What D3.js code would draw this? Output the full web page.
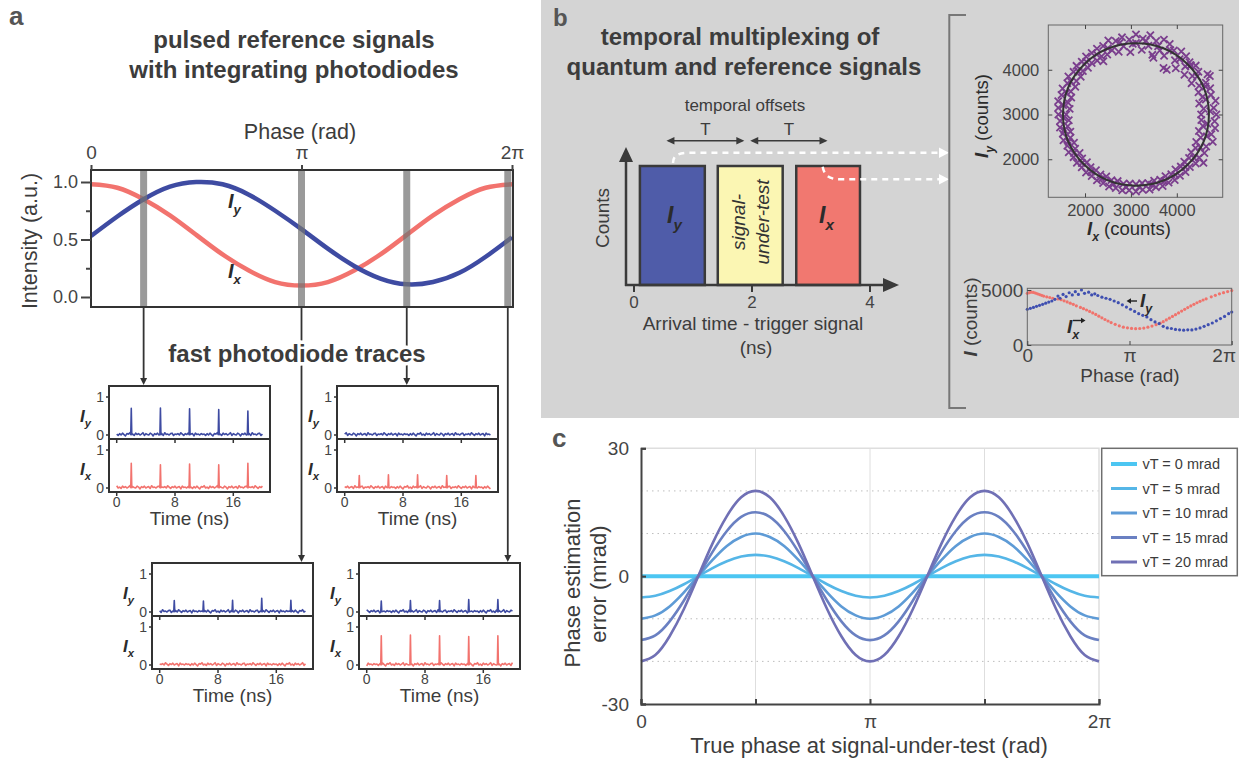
<!DOCTYPE html>
<html>
<head>
<meta charset="utf-8">
<script src="https://cdn.jsdelivr.net/npm/d3@7/dist/d3.min.js"></script>
<style>
  body { margin: 0; background: #fff; }
  svg { display: block; }
</style>
</head>
<body>
<script>
// ---------- panel a : integrating photodiodes (phase in units of pi) ----------
var phaseA = [0, 0.125, 0.25, 0.375, 0.5, 0.625, 0.75, 0.875, 1, 1.125, 1.25, 1.375, 1.5, 1.625, 1.75, 1.875, 2];
var intensityX = [0.98, 0.95, 0.85, 0.71, 0.54, 0.37, 0.23, 0.13, 0.10, 0.13, 0.23, 0.37, 0.54, 0.71, 0.85, 0.95, 0.98];
var intensityY = [0.53, 0.70, 0.85, 0.96, 1.00, 0.98, 0.89, 0.75, 0.59, 0.42, 0.27, 0.16, 0.11, 0.13, 0.21, 0.35, 0.52];
var gatePhases = [0.25, 1, 1.5, 1.98];
var phaseTicks = [0, 1, 2];
var intensityTicks = [0, 0.5, 1];
var intensityMinor = [0.25, 0.75];

// fast photodiode traces
var pulseTimes = [2, 6, 10, 14, 18];
var timeTicks = [0, 8, 16];
var traceNoise = [0.02, -0.01, 0.03, 0.00, 0.04, 0.01, -0.02, 0.03, 0.02, 0.05, 0.00, 0.02, -0.01, 0.04, 0.01,
  0.03, 0.00, 0.02, 0.05, -0.01, 0.03, 0.01, 0.00, 0.04, 0.02, -0.02, 0.03, 0.01, 0.04, 0.00,
  0.02, 0.03, -0.01, 0.05, 0.01, 0.02, 0.00, 0.03, 0.04, -0.01, 0.02, 0.01, 0.03, 0.00, 0.05,
  0.02, -0.01, 0.03, 0.01, 0.04, 0.00, 0.02, 0.03, -0.02, 0.04, 0.01, 0.02, 0.00, 0.03, 0.01];
var peaksY1 = [0.70, 0.71, 0.69, 0.67, 0.63];
var peaksX1 = [0.65, 0.61, 0.63, 0.61, 0.65];
var peaksY2 = [0, 0, 0, 0, 0];
var peaksX2 = [0.33, 0.35, 0.35, 0.33, 0.33];
var peaksY3 = [0.30, 0.29, 0.31, 0.36, 0.31];
var peaksX3 = [0, 0, 0, 0, 0];
var peaksY4 = [0.29, 0.30, 0.30, 0.33, 0.33];
var peaksX4 = [0.77, 0.79, 0.77, 0.75, 0.77];

// ---------- panel b ----------
var arrivalTicks = [0, 2, 4];
var binStart = [0.1, 1.42, 2.75];
var binEnd = [1.2, 2.52, 3.83];
var countTicks = [2000, 3000, 4000];
var fitCenter = [3110, 3000];
var fitRadius = 1590;
var scatterPoints = [
  [4530,3000],[4860,3000],[4584,3129],[4803,3148],[4489,3244],[4844,3306],[4559,3389],[4743,3438],
  [4473,3496],[4727,3588],[4487,3643],[4632,3711],[4322,3700],[4669,3900],[4339,3861],[4470,3953],
  [4167,3887],[4412,4093],[4185,4075],[4277,4167],[3978,4034],[4203,4302],[3960,4212],[4097,4409],
  [3710,4039],[3935,4429],[3723,4314],[3846,4576],[3630,4429],[3719,4673],[3467,4333],[3550,4642],
  [3381,4537],[3423,4773],[3236,4444],[3258,4693],[3110,4600],[3110,4790],[2988,4394],[2964,4673],
  [2840,4527],[2806,4724],[2734,4401],[2670,4642],[2587,4438],[2508,4654],[2484,4341],[2395,4531],
  [2360,4299],[2260,4472],[2266,4204],[2146,4376],[2146,4149],[2023,4295],[2064,4046],[1929,4181],
  [1953,3971],[1815,4087],[1906,3844],[1750,3953],[1811,3750],[1638,3850],[1787,3618],[1615,3698],
  [1691,3516],[1512,3581],[1700,3378],[1487,3435],[1633,3261],[1416,3299],[1666,3126],[1417,3148],
  [1590,3000],[1420,3000],[1646,2872],[1457,2856],[1623,2737],[1455,2708],[1680,2617],[1516,2573],
  [1681,2480],[1531,2425],[1760,2370],[1615,2302],[1785,2235],[1646,2155],[1882,2139],[1750,2047],
  [1938,2016],[1823,1920],[2042,1932],[1929,1819],[2120,1820],[2023,1705],[2238,1755],[2146,1624],
  [2335,1658],[2260,1528],[2463,1614],[2395,1469],[2576,1534],[2525,1393],[2711,1512],[2670,1358],
  [2837,1454],[2811,1306],[2975,1456],[2962,1307],[3110,1440],[3110,1280],[3244,1466],[3257,1317],
  [3381,1463],[3406,1326],[3506,1522],[3545,1377],[3640,1543],[3691,1402],[3753,1623],[3821,1478],
  [3880,1666],[3955,1536],[3971,1772],[4069,1632],[4087,1836],[4190,1713],[4163,1947],[4284,1826],
  [4267,2029],[4412,1907],[4314,2156],[4486,2036],[4409,2250],[4600,2140],[4424,2387],[4641,2285],
  [4520,2487],[4783,2391],[4482,2632],[4752,2560],[4568,2742],[4834,2696],[4534,2876],[4823,2850],
  [4728,3071],[4633,3337],[4625,3628],[4442,3848],[4304,4095],[4060,4237],[3858,4437],[3592,4526],
  [3327,4645],[3040,4578],[2756,4601],[2497,4478],[2256,4340],[2028,4179],[1857,3962],[1691,3739],
  [1593,3479],[1524,3210],[1532,2930],[1548,2654],[1641,2391],[1761,2141],[1931,1918],[2130,1723],
  [2362,1563],[2619,1445],[2895,1375],[3181,1382],[3458,1429],[3727,1512],[3969,1651],[4185,1828],
  [4379,2026],[4511,2270],[4655,2512],[4666,2794],
  [3780,4000],[2400,4190],[3490,4270],[4580,1920],[4720,3860],[4300,4100]
];
var sweepTicks = [0, 5000];
var redDots = [
  [0.00,4700],[0.02,4760],[0.04,4800],[0.06,4780],[0.08,4720],[0.10,4650],[0.12,4580],[0.14,4520],
  [0.16,4450],[0.19,4380],[0.22,4320],[0.25,4250],[0.30,4180],[0.33,4120],[0.36,4020],[0.39,3920],
  [0.42,3800],[0.45,3700],[0.48,3560],[0.52,3420],[0.55,3300],[0.58,3180],[0.61,3050],[0.64,2920],
  [0.67,2780],[0.70,2620],[0.73,2470],[0.76,2320],[0.79,2180],[0.82,2040],[0.86,1880],[0.90,1740],
  [0.94,1620],[0.98,1560],[1.02,1510],[1.06,1480],[1.10,1500],[1.14,1540],[1.18,1620],[1.22,1720],
  [1.26,1850],[1.30,1980],[1.33,2120],[1.36,2280],[1.39,2440],[1.42,2600],[1.45,2760],[1.48,2920],
  [1.51,3080],[1.54,3240],[1.57,3400],[1.60,3550],[1.63,3700],[1.66,3840],[1.69,3970],[1.72,4090],
  [1.75,4200],[1.80,4380],[1.84,4520],[1.88,4650],[1.92,4760],[1.96,4860],[2.00,4950]
];
var blueDots = [
  [0.00,3250],[0.03,3330],[0.06,3420],[0.09,3520],[0.12,3610],[0.15,3700],[0.18,3800],[0.21,3900],
  [0.24,4000],[0.27,4150],[0.30,4450],[0.32,4250],[0.35,4600],[0.38,4400],[0.41,4750],[0.44,4550],
  [0.47,4850],[0.50,4600],[0.53,5000],[0.56,4700],[0.60,4800],[0.63,4550],[0.66,4650],[0.69,4500],
  [0.73,4350],[0.77,4250],[0.81,4150],[0.85,4000],[0.89,3850],[0.93,3650],[0.97,3450],[1.01,3250],
  [1.05,3050],[1.09,2850],[1.13,2700],[1.17,2550],[1.21,2300],[1.25,2100],[1.29,1950],[1.33,1700],
  [1.37,1550],[1.41,1500],[1.45,1420],[1.49,1380],[1.53,1350],[1.57,1380],[1.61,1370],[1.65,1450],
  [1.69,1550],[1.73,1700],[1.77,1850],[1.81,2000],[1.85,2200],[1.89,2400],[1.93,2600],[1.97,2850],
  [2.00,3000]
];

// ---------- panel c ----------
var phaseC = [0, 0.0625, 0.125, 0.1875, 0.25, 0.3125, 0.375, 0.4375, 0.5, 0.5625, 0.625, 0.6875, 0.75,
  0.8125, 0.875, 0.9375, 1, 1.0625, 1.125, 1.1875, 1.25, 1.3125, 1.375, 1.4375, 1.5, 1.5625, 1.625,
  1.6875, 1.75, 1.8125, 1.875, 1.9375, 2];
var err0 = [0,0,0,0,0,0,0,0,0,0,0,0,0,0,0,0,0,0,0,0,0,0,0,0,0,0,0,0,0,0,0,0,0];
var err5 = [-5,-4.6,-3.5,-1.9,0,1.9,3.5,4.6,5,4.6,3.5,1.9,0,-1.9,-3.5,-4.6,-5,-4.6,-3.5,-1.9,0,1.9,3.5,4.6,5,4.6,3.5,1.9,0,-1.9,-3.5,-4.6,-5];
var err10 = [-10,-9.2,-7.1,-3.8,0,3.8,7.1,9.2,10,9.2,7.1,3.8,0,-3.8,-7.1,-9.2,-10,-9.2,-7.1,-3.8,0,3.8,7.1,9.2,10,9.2,7.1,3.8,0,-3.8,-7.1,-9.2,-10];
var err15 = [-15,-13.9,-10.6,-5.7,0,5.7,10.6,13.9,15,13.9,10.6,5.7,0,-5.7,-10.6,-13.9,-15,-13.9,-10.6,-5.7,0,5.7,10.6,13.9,15,13.9,10.6,5.7,0,-5.7,-10.6,-13.9,-15];
var err20 = [-20,-18.5,-14.1,-7.7,0,7.7,14.1,18.5,20,18.5,14.1,7.7,0,-7.7,-14.1,-18.5,-20,-18.5,-14.1,-7.7,0,7.7,14.1,18.5,20,18.5,14.1,7.7,0,-7.7,-14.1,-18.5,-20];
var vtLabels = ["vT = 0 mrad", "vT = 5 mrad", "vT = 10 mrad", "vT = 15 mrad", "vT = 20 mrad"];
var errTicks = [-30, 0, 30];
var errGrid = [-20, -10, 10, 20];
var phaseTicksC = [0, 0.5, 1, 1.5, 2];

// ---------- styling ----------
var FONT = '"Liberation Sans", Arial, Helvetica, sans-serif';
var INK = "#3c3c3c";
var TICK = "#444";
var RED = "#f2736e";
var BLUE = "#3e4ba2";
var vtColors = ["#4cc6f2", "#55b6e7", "#5e9bd6", "#6a80c2", "#7070b5"];

var svg = d3.select("body").append("svg")
    .attr("width", 1239)
    .attr("height", 762)
    .attr("font-family", FONT);

function piLabel(d) {
    if (d === 0) return "0";
    if (d === 1) return "π";
    if (d === 2) return "2π";
    return "";
}
var plainNum = (d) => (d < 0 ? "-" + Math.abs(d) : String(d));

function styleAxis(sel, size, sw) {
    sel.attr("font-family", FONT).attr("font-size", size).style("color", TICK);
    sel.selectAll("line").attr("stroke-width", sw || 1);
    return sel;
}

// bold italic I with a subscript
function subLabel(g, x, y, sub, size, rest) {
    var t = g.append("text").attr("x", x).attr("y", y).attr("fill", "#2b2b2b");
    t.append("tspan").attr("font-weight", "bold").attr("font-style", "italic")
        .attr("font-size", size).text("I");
    t.append("tspan").attr("font-weight", "bold").attr("font-style", "italic")
        .attr("font-size", size * 0.66).attr("dy", size * 0.3).text(sub);
    if (rest) {
        t.append("tspan").attr("font-size", size).attr("dy", -size * 0.3).text(rest);
    }
    return t;
}

function arrowDown(g, x, y) {
    g.append("path").attr("d", `M${x - 3.5},${y - 7}L${x + 3.5},${y - 7}L${x},${y}Z`).attr("fill", "#333");
}

// ================= PANEL A =================
var a = svg.append("g");
a.append("text").attr("x", 9).attr("y", 25).attr("font-size", 26).attr("font-weight", "bold")
    .attr("fill", "#555").text("a");
a.append("text").attr("x", 294).attr("y", 48).attr("text-anchor", "middle").attr("font-size", 24)
    .attr("font-weight", "bold").attr("fill", INK).text("pulsed reference signals");
a.append("text").attr("x", 294).attr("y", 78).attr("text-anchor", "middle").attr("font-size", 24)
    .attr("font-weight", "bold").attr("fill", INK).text("with integrating photodiodes");

var ax = d3.scaleLinear().domain([0, 2]).range([91, 512]);
var ay = d3.scaleLinear().domain([0, 1]).range([297, 182]);
var aTop = 170, aBot = 307;

var lineA = d3.line()
    .x((d, i) => ax(phaseA[i]))
    .y((d) => ay(d))
    .curve(d3.curveNatural);

a.append("path").datum(intensityX).attr("d", lineA).attr("fill", "none")
    .attr("stroke", RED).attr("stroke-width", 4.5);
a.append("path").datum(intensityY).attr("d", lineA).attr("fill", "none")
    .attr("stroke", BLUE).attr("stroke-width", 4.5);

a.selectAll(".gate").data(gatePhases).enter().append("rect")
    .attr("x", (d) => ax(d) - 3.5)
    .attr("y", aTop)
    .attr("width", 7)
    .attr("height", aBot - aTop)
    .attr("fill", "#737373")
    .attr("fill-opacity", 0.72);

a.append("rect").attr("x", 91).attr("y", aTop).attr("width", 422).attr("height", aBot - aTop)
    .attr("fill", "none").attr("stroke", "#333").attr("stroke-width", 2);

styleAxis(a.append("g").attr("transform", `translate(0,${aTop})`)
    .call(d3.axisTop(ax).tickValues(phaseTicks).tickFormat(piLabel).tickSize(5).tickPadding(6)), 19, 2)
    .select(".domain").remove();
styleAxis(a.append("g").attr("transform", "translate(91,0)")
    .call(d3.axisLeft(ay).tickValues(intensityTicks).tickFormat(d3.format(".1f")).tickSize(10).tickPadding(3)), 18, 2)
    .select(".domain").remove();
styleAxis(a.append("g").attr("transform", "translate(91,0)")
    .call(d3.axisLeft(ay).tickValues(intensityMinor).tickFormat("").tickSize(5)), 18, 2)
    .select(".domain").remove();

a.append("text").attr("x", 300).attr("y", 139).attr("text-anchor", "middle").attr("font-size", 21.5)
    .attr("fill", INK).text("Phase (rad)");
a.append("text").attr("transform", "translate(37,241) rotate(-90)").attr("text-anchor", "middle")
    .attr("font-size", 21.5).attr("fill", INK).text("Intensity (a.u.)");

subLabel(a, 228, 208, "y", 20);
subLabel(a, 228, 278, "x", 20);

// connectors from the gates to the trace panels
var gateTargets = [385, 562, 385, 562];
gatePhases.forEach(function (p, i) {
    var x = ax(p);
    a.append("line").attr("x1", x).attr("x2", x).attr("y1", aBot).attr("y2", gateTargets[i] - 6)
        .attr("stroke", "#333").attr("stroke-width", 1.8);
    arrowDown(a, x, gateTargets[i]);
});

a.append("text").attr("x", 297).attr("y", 362).attr("text-anchor", "middle").attr("font-size", 24)
    .attr("font-weight", "bold").attr("fill", INK)
    .attr("stroke", "#fff").attr("stroke-width", 7).attr("paint-order", "stroke")
    .text("fast photodiode traces");

function traceData(peaks, shift) {
    var pts = [];
    var n = traceNoise.length;
    for (var i = 0; i <= 100; i++) {
        var t = i * 0.2;
        var near = pulseTimes.some((tp, k) => peaks[k] > 0 && Math.abs(t - tp) < 0.1);
        if (!near) pts.push([t, traceNoise[(i + shift) % n] * 1.2]);
    }
    pulseTimes.forEach(function (tp, k) {
        if (peaks[k] > 0) pts.push([tp - 0.07, 0.01], [tp, peaks[k]], [tp + 0.07, 0.01]);
    });
    pts.sort((p, q) => p[0] - q[0]);
    return pts;
}

var tracePanels = [
    { left: 109, top: 386, py: peaksY1, px: peaksX1, shift: 0 },
    { left: 337, top: 386, py: peaksY2, px: peaksX2, shift: 17 },
    { left: 152, top: 563, py: peaksY3, px: peaksX3, shift: 31 },
    { left: 359, top: 563, py: peaksY4, px: peaksX4, shift: 44 }
];

tracePanels.forEach(function (tp) {
    var g = a.append("g");
    var w = 161, h = 106, half = 53;
    var tx = d3.scaleLinear().domain([0, 8]).range([tp.left + 7.7, tp.left + 66]);
    var halves = [
        { y: d3.scaleLinear().domain([0, 1]).range([tp.top + 49, tp.top + 11]), peaks: tp.py, color: BLUE, sub: "y", shift: tp.shift },
        { y: d3.scaleLinear().domain([0, 1]).range([tp.top + half + 49, tp.top + half + 11]), peaks: tp.px, color: RED, sub: "x", shift: tp.shift + 9 }
    ];
    halves.forEach(function (hf, k) {
        var line = d3.line().x((d) => tx(d[0])).y((d) => hf.y(d[1]));
        g.append("path").datum(traceData(hf.peaks, hf.shift)).attr("d", line).attr("fill", "none")
            .attr("stroke", hf.color).attr("stroke-width", 1.6).attr("stroke-linejoin", "round");
        [0, 1].forEach(function (v) {
            g.append("line").attr("x1", tp.left - 3).attr("x2", tp.left).attr("y1", hf.y(v)).attr("y2", hf.y(v))
                .attr("stroke", "#333").attr("stroke-width", 1.5);
            g.append("text").attr("x", tp.left - 5).attr("y", hf.y(v)).attr("dy", "0.35em")
                .attr("text-anchor", "end").attr("font-size", 14).attr("fill", TICK).text(v);
        });
        subLabel(g, tp.left - 29, tp.top + (k === 0 ? 36 : 89), hf.sub, 17);
    });
    timeTicks.forEach(function (t) {
        [tp.top + half, tp.top + h].forEach(function (yy) {
            g.append("line").attr("x1", tx(t)).attr("x2", tx(t)).attr("y1", yy).attr("y2", yy + 4)
                .attr("stroke", "#333").attr("stroke-width", 1.5);
        });
        g.append("text").attr("x", tx(t)).attr("y", tp.top + h + 15).attr("text-anchor", "middle")
            .attr("font-size", 14).attr("fill", TICK).text(t);
    });
    g.append("rect").attr("x", tp.left).attr("y", tp.top).attr("width", w).attr("height", h)
        .attr("fill", "none").attr("stroke", "#333").attr("stroke-width", 2);
    g.append("line").attr("x1", tp.left).attr("x2", tp.left + w).attr("y1", tp.top + half).attr("y2", tp.top + half)
        .attr("stroke", "#333").attr("stroke-width", 2);
    g.append("text").attr("x", tx(10)).attr("y", tp.top + h + 33).attr("text-anchor", "middle")
        .attr("font-size", 19).attr("fill", INK).text("Time (ns)");
});

// ================= PANEL B =================
var b = svg.append("g");
b.append("rect").attr("x", 541).attr("y", 0).attr("width", 698).attr("height", 418).attr("fill", "#d4d4d4");
b.append("text").attr("x", 553).attr("y", 26).attr("font-size", 24).attr("font-weight", "bold")
    .attr("fill", "#555").text("b");
b.append("text").attr("x", 740).attr("y", 45).attr("text-anchor", "middle").attr("font-size", 24)
    .attr("font-weight", "bold").attr("fill", INK).text("temporal multiplexing of");
b.append("text").attr("x", 744).attr("y", 75).attr("text-anchor", "middle").attr("font-size", 24)
    .attr("font-weight", "bold").attr("fill", INK).text("quantum and reference signals");

var bx = d3.scaleLinear().domain([0, 4]).range([634, 870]);
var by = d3.scaleLinear().domain([0, 1]).range([285, 166]);
var binFill = ["#4f5ca9", "#fbf6b3", "#f17870"];

b.selectAll(".bin").data(binStart).enter().append("rect")
    .attr("x", (d) => bx(d))
    .attr("y", by(1))
    .attr("width", (d, i) => bx(binEnd[i]) - bx(d))
    .attr("height", by(0) - by(1))
    .attr("fill", (d, i) => binFill[i])
    .attr("stroke", "#3a3a3a")
    .attr("stroke-width", 2.5);

// axes with arrow heads
b.append("line").attr("x1", 626).attr("x2", 626).attr("y1", 286).attr("y2", 158)
    .attr("stroke", "#3a3a3a").attr("stroke-width", 2.5);
b.append("path").attr("d", "M619,162L626,147L633,162Z").attr("fill", "#3a3a3a");
b.append("line").attr("x1", 625).attr("x2", 888).attr("y1", 285).attr("y2", 285)
    .attr("stroke", "#3a3a3a").attr("stroke-width", 2.5);
b.append("path").attr("d", "M883,278L899,285L883,292Z").attr("fill", "#3a3a3a");
arrivalTicks.forEach(function (t) {
    b.append("line").attr("x1", bx(t)).attr("x2", bx(t)).attr("y1", 285).attr("y2", 292)
        .attr("stroke", "#3a3a3a").attr("stroke-width", 2);
    b.append("text").attr("x", bx(t)).attr("y", 308).attr("text-anchor", "middle").attr("font-size", 17)
        .attr("fill", TICK).text(t);
});
b.append("text").attr("x", 753).attr("y", 330).attr("text-anchor", "middle").attr("font-size", 19)
    .attr("fill", INK).text("Arrival time - trigger signal");
b.append("text").attr("x", 756).attr("y", 354).attr("text-anchor", "middle").attr("font-size", 19)
    .attr("fill", INK).text("(ns)");
b.append("text").attr("transform", "translate(609,218) rotate(-90)").attr("text-anchor", "middle")
    .attr("font-size", 19).attr("fill", INK).text("Counts");

subLabel(b, 667, 223, "y", 23);
subLabel(b, 819, 223, "x", 23);
b.append("text").attr("transform", "translate(745,222) rotate(-90)").attr("text-anchor", "middle")
    .attr("font-size", 19).attr("font-style", "italic").attr("fill", "#333").text("signal-");
b.append("text").attr("transform", "translate(769,222) rotate(-90)").attr("text-anchor", "middle")
    .attr("font-size", 19).attr("font-style", "italic").attr("fill", "#333").text("under-test");

// temporal offsets
b.append("text").attr("x", 745).attr("y", 111).attr("text-anchor", "middle").attr("font-size", 17)
    .attr("fill", INK).text("temporal offsets");
[[bx(0.55), bx(1.87)], [bx(1.97), bx(3.28)]].forEach(function (s) {
    b.append("line").attr("x1", s[0] + 2).attr("x2", s[1] - 2).attr("y1", 140.7).attr("y2", 140.7)
        .attr("stroke", "#3a3a3a").attr("stroke-width", 1.5);
    b.append("path").attr("d", `M${s[0]},140.7L${s[0] + 8},137L${s[0] + 8},144.4Z`).attr("fill", "#3a3a3a");
    b.append("path").attr("d", `M${s[1]},140.7L${s[1] - 8},137L${s[1] - 8},144.4Z`).attr("fill", "#3a3a3a");
    b.append("text").attr("x", (s[0] + s[1]) / 2).attr("y", 135).attr("text-anchor", "middle")
        .attr("font-size", 17).attr("fill", INK).text("T");
});

// white dashed guides to the data plots
b.append("path").attr("d", "M673,163C673,155 679,152.7 690,152.7L941,152.7").attr("fill", "none")
    .attr("stroke", "#fff").attr("stroke-width", 2.5).attr("stroke-dasharray", "6,5");
b.append("path").attr("d", "M939,147.5L949,152.7L939,158Z").attr("fill", "#fff");
b.append("path").attr("d", "M822.7,166.7C824,175 829,179.3 840,179.3L941,179.3").attr("fill", "none")
    .attr("stroke", "#fff").attr("stroke-width", 2.5).attr("stroke-dasharray", "6,5");
b.append("path").attr("d", "M939,174L949,179.3L939,184.6Z").attr("fill", "#fff");

// bracket
b.append("path").attr("d", "M966,15H949.3V408H966").attr("fill", "none")
    .attr("stroke", "#777").attr("stroke-width", 2);

// scatter Ix vs Iy
var sx = d3.scaleLinear().domain([1200, 5000]).range([1048.3, 1222.7]);
var sy = d3.scaleLinear().domain([1150, 5000]).range([197.3, 25]);
var cross = b.append("g");
scatterPoints.forEach(function (p) {
    var x = sx(p[0]), y = sy(p[1]);
    cross.append("path").attr("d", `M${x - 3.6},${y - 3.6}L${x + 3.6},${y + 3.6}M${x - 3.6},${y + 3.6}L${x + 3.6},${y - 3.6}`)
        .attr("stroke", "#7a3e8d").attr("stroke-width", 1.8);
});
b.append("ellipse").attr("cx", sx(fitCenter[0])).attr("cy", sy(fitCenter[1]))
    .attr("rx", sx(fitCenter[0] + fitRadius) - sx(fitCenter[0]))
    .attr("ry", sy(fitCenter[1]) - sy(fitCenter[1] + fitRadius))
    .attr("fill", "none").attr("stroke", "#333").attr("stroke-width", 2);
b.append("rect").attr("x", 1048.3).attr("y", 25).attr("width", 174.4).attr("height", 172.3)
    .attr("fill", "none").attr("stroke", "#666").attr("stroke-width", 1);
styleAxis(b.append("g").attr("transform", "translate(1048.3,0)")
    .call(d3.axisLeft(sy).tickValues(countTicks).tickFormat(plainNum).tickSize(-4).tickPadding(9)), 16.5)
    .select(".domain").remove();
styleAxis(b.append("g").attr("transform", "translate(1222.7,0)")
    .call(d3.axisRight(sy).tickValues(countTicks).tickSize(-4).tickFormat("")), 16.5).select(".domain").remove();
styleAxis(b.append("g").attr("transform", "translate(0,197.3)")
    .call(d3.axisBottom(sx).tickValues(countTicks).tickFormat(plainNum).tickSize(-4).tickPadding(7)), 16.5)
    .select(".domain").remove();
styleAxis(b.append("g").attr("transform", "translate(0,25)")
    .call(d3.axisTop(sx).tickValues(countTicks).tickSize(-4).tickFormat("")), 16.5).select(".domain").remove();
subLabel(b, 1087, 235, "x", 18.5, " (counts)");
subLabel(b, 0, 0, "y", 18.5, " (counts)").attr("transform", "translate(988,116) rotate(-90)")
    .attr("text-anchor", "middle");

// Ix and Iy versus phase
var px = d3.scaleLinear().domain([0, 2]).range([1027.3, 1231.7]);
var py = d3.scaleLinear().domain([0, 5000]).range([345, 290]);
b.selectAll(".rdot").data(redDots).enter().append("circle")
    .attr("cx", (d) => px(d[0])).attr("cy", (d) => py(d[1])).attr("r", 1.6).attr("fill", "#f0736c");
b.selectAll(".bdot").data(blueDots).enter().append("circle")
    .attr("cx", (d) => px(d[0])).attr("cy", (d) => py(d[1])).attr("r", 1.6).attr("fill", "#3f4fb0");
b.append("rect").attr("x", 1027.3).attr("y", 288.3).attr("width", 204.4).attr("height", 56.7)
    .attr("fill", "none").attr("stroke", "#666").attr("stroke-width", 1);
styleAxis(b.append("g").attr("transform", "translate(1027.3,0)")
    .call(d3.axisLeft(py).tickValues(sweepTicks).tickFormat(plainNum).tickSize(-4).tickPadding(4)), 19)
    .select(".domain").remove();
var pb = styleAxis(b.append("g").attr("transform", "translate(0,345)")
    .call(d3.axisBottom(px).tickValues(phaseTicks).tickFormat(piLabel).tickSize(-4).tickPadding(3)), 19);
pb.select(".domain").remove();
pb.selectAll("text").filter((d) => d === 2).attr("text-anchor", "end").attr("dx", "0.2em");
b.append("text").attr("x", 1130).attr("y", 382).attr("text-anchor", "middle").attr("font-size", 19)
    .attr("fill", INK).text("Phase (rad)");
var iLab = b.append("text").attr("transform", "translate(977,317) rotate(-90)").attr("text-anchor", "middle")
    .attr("fill", INK).attr("font-size", 19);
iLab.append("tspan").attr("font-weight", "bold").attr("font-style", "italic").text("I");
iLab.append("tspan").text(" (counts)");
subLabel(b, 1140, 307, "y", 19);
b.append("path").attr("d", "M1137,301H1130").attr("stroke", "#222").attr("stroke-width", 1.4);
b.append("path").attr("d", "M1126.5,301L1131,298.2L1131,303.8Z").attr("fill", "#222");
subLabel(b, 1067, 333, "x", 19);
b.append("path").attr("d", "M1073,320.5H1081").attr("stroke", "#222").attr("stroke-width", 1.4);
b.append("path").attr("d", "M1085.5,320.5L1081,317.7L1081,323.3Z").attr("fill", "#222");

// ================= PANEL C =================
var c = svg.append("g");
c.append("text").attr("x", 552).attr("y", 447).attr("font-size", 26).attr("font-weight", "bold")
    .attr("fill", "#555").text("c");

var cx = d3.scaleLinear().domain([0, 2]).range([641, 1099]);
var cy = d3.scaleLinear().domain([-30, 30]).range([704, 448.3]);

[0.5, 1, 1.5].forEach(function (p) {
    c.append("line").attr("x1", cx(p)).attr("x2", cx(p)).attr("y1", cy(30)).attr("y2", cy(-30))
        .attr("stroke", "#dedede").attr("stroke-width", 1);
});
errGrid.forEach(function (v) {
    c.append("line").attr("x1", cx(0)).attr("x2", cx(2)).attr("y1", cy(v)).attr("y2", cy(v))
        .attr("stroke", "#bdbdbd").attr("stroke-width", 1).attr("stroke-dasharray", "1.5,4");
});
c.append("path").attr("d", `M${cx(0)},${cy(30)}H${cx(2)}V${cy(-30)}`).attr("fill", "none")
    .attr("stroke", "#dedede").attr("stroke-width", 1.5);

var errSeries = [err0, err5, err10, err15, err20];
var lineC = d3.line()
    .x((d, i) => cx(phaseC[i]))
    .y((d) => cy(d))
    .curve(d3.curveNatural);
c.selectAll(".err").data(errSeries).enter().append("path")
    .attr("d", lineC)
    .attr("fill", "none")
    .attr("stroke", (d, i) => vtColors[i])
    .attr("stroke-width", (d, i) => (i === 0 ? 4 : 2.6));

var cl = styleAxis(c.append("g").attr("transform", `translate(${cx(0)},0)`)
    .call(d3.axisLeft(cy).tickValues(errTicks).tickFormat(plainNum).tickSize(-5).tickPadding(12)), 19, 2);
cl.select(".domain").attr("stroke-width", 2);
var cb = styleAxis(c.append("g").attr("transform", `translate(0,${cy(-30)})`)
    .call(d3.axisBottom(cx).tickValues(phaseTicksC).tickFormat(piLabel).tickSize(-5).tickPadding(10.5)), 19, 2);
cb.select(".domain").attr("stroke-width", 2);

c.append("text").attr("x", 869).attr("y", 753).attr("text-anchor", "middle").attr("font-size", 22)
    .attr("fill", INK).text("True phase at signal-under-test (rad)");
c.append("text").attr("transform", "translate(580,583) rotate(-90)").attr("text-anchor", "middle")
    .attr("font-size", 22).attr("fill", INK).text("Phase estimation");
c.append("text").attr("transform", "translate(606,584) rotate(-90)").attr("text-anchor", "middle")
    .attr("font-size", 22).attr("fill", INK).text("error (mrad)");

// legend
var lg = c.append("g");
lg.append("rect").attr("x", 1101.7).attr("y", 448.3).attr("width", 135.6).attr("height", 127.4)
    .attr("fill", "#fff").attr("stroke", "#6e6e6e").attr("stroke-width", 1.5);
vtLabels.forEach(function (lab, i) {
    var yy = 464 + i * 24.5;
    lg.append("line").attr("x1", 1111).attr("x2", 1137).attr("y1", yy).attr("y2", yy)
        .attr("stroke", vtColors[i]).attr("stroke-width", i === 0 ? 4 : 3);
    lg.append("text").attr("x", 1142.5).attr("y", yy + 5).attr("font-size", 14.5).attr("fill", INK).text(lab);
});
</script>
</body>
</html>
